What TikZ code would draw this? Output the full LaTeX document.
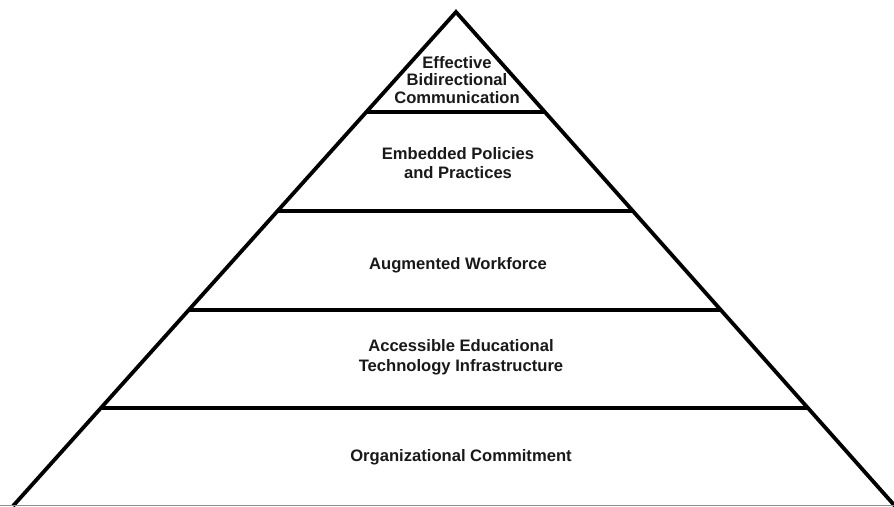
\documentclass[tikz,border=0pt]{standalone}
\usepackage{fontspec}
\setmainfont{Liberation Sans}
\usetikzlibrary{calc}
\begin{document}
\begin{tikzpicture}[x=1pt,y=-1pt,
  edge/.style={line width=3.8pt,black},
  tierline/.style={line width=3.6pt,black},
  label/.style={font=\fontsize{16.6}{19.5}\selectfont\bfseries,align=center,text=black!90,inner sep=0pt}]
  \useasboundingbox[fill=white] (0,0) rectangle (894,506);

  % outline of the pyramid
  \coordinate (apex) at (456,12);
  \coordinate (bl) at (13,506);
  \coordinate (br) at (895,506);
  \draw[edge,line join=miter] (bl) -- (apex) -- (br);
  \draw[black!45,line width=1pt] (0,505.5) -- (894,505.5);

  % tier separators
  \foreach \t/\n in {0.2025/a,0.403/b,0.6035/c,0.8015/d}{
    \coordinate (l\n) at ($(apex)!\t!(bl)$);
    \coordinate (r\n) at ($(apex)!\t!(br)$);
    \draw[tierline] (l\n) -- (r\n);
  }

  % tier labels
  \node[label,font=\fontsize{16.6}{17.5}\selectfont\bfseries] (t1) at (457,80) {Effective\\Bidirectional\\Communication};
  \node[label] (t2) at (458,163) {Embedded Policies\\and Practices};
  \node[label] (t3) at (458,265) {Augmented Workforce};
  \node[label] (t4) at (461,357) {Accessible Educational\\Technology Infrastructure};
  \node[label] (t5) at (461,457) {Organizational Commitment};
\end{tikzpicture}
\end{document}
